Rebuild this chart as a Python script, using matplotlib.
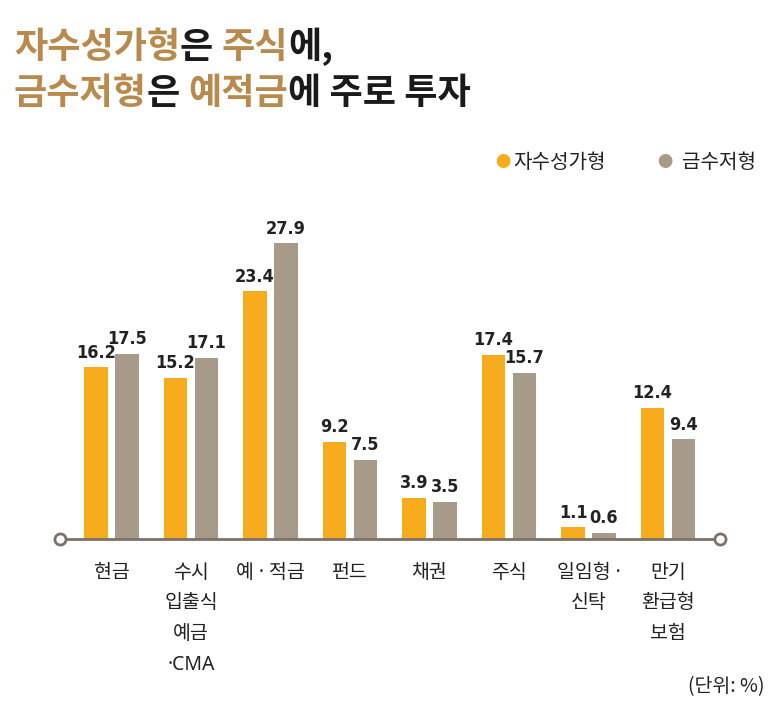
import numpy as np
import matplotlib.pyplot as plt
from matplotlib import font_manager

plt.rcParams['font.family'] = ['Noto Sans CJK KR', 'DejaVu Sans']

# Data
categories = ['현금', '수시\n입출식\n예금\n·CMA', '예 · 적금', '펀드', '채권', '주식',
              '일임형 ·\n신탁', '만기\n환급형\n보험']
self_made = [16.2, 15.2, 23.4, 9.2, 3.9, 17.4, 1.1, 12.4]
salaried = [17.5, 17.1, 27.9, 7.5, 3.5, 15.7, 0.6, 9.4]
series_names = ['자수성가형', '금수저형']

c_orange = '#F6AC1D'
c_gray = '#A89A89'
c_title = '#B88A4E'
c_axis = '#7D7168'

# look for a narrow font for the value labels
narrow = [f for f in font_manager.fontManager.ttflist
          if 'narrow' in f.name.lower() or f.stretch in ('condensed', 'semi-condensed')]
num_family = [narrow[0].name] if narrow else ['Roboto', 'DejaVu Sans']
num_stretch = narrow[0].stretch if narrow else 'normal'

fig = plt.figure(figsize=(7.77, 7.13), dpi=100)
W, H = 777, 713

# axes placed in pixel terms: baseline at y=539 from top, line from x=60 to 720
ax = fig.add_axes([60 / W, (H - 539) / H, 660 / W, 339 / H])
ax.set_xlim(-0.648, 7.654)
ax.set_ylim(0, 32)
ax.axis('off')

x = np.arange(len(categories))
off = 0.195
bw = 0.30
ax.bar(x - off, self_made, bw, color=c_orange)
ax.bar(x + off, salaried, bw, color=c_gray)

num_font = dict(family=num_family, stretch=num_stretch, fontsize=13 if narrow else 10.5,
                fontweight='bold' if narrow else 'medium', color='#222222',
                ha='center', va='bottom')
for xs, vals in [(x - off, self_made), (x + off, salaried)]:
    for xi, v in zip(xs, vals):
        ax.annotate(f'{v}', (xi, v), xytext=(0, 4), textcoords='offset points', **num_font)

# baseline with open circles
ax.plot([-0.648, 7.654], [0, 0], color=c_axis, lw=2, clip_on=False, zorder=3)
ax.plot([-0.648, 7.654], [0, 0], 'o', ms=8, mfc='white', mec=c_axis, mew=2,
        clip_on=False, zorder=4)

# category labels
for xi, lab in zip(x, categories):
    ax.annotate(lab, (xi, 0), xytext=(0, -17), textcoords='offset points',
                ha='center', va='top', fontsize=14, color='#222222', linespacing=1.72,
                family=['Noto Sans', 'Noto Sans CJK KR'])

# title with mixed colours
tkw = dict(fontsize=26, fontweight='bold')
pieces1 = [('자수성가형', c_title), ('은 ', '#1a1a1a'), ('주식', c_title), ('에,', '#1a1a1a')]
pieces2 = [('금수저형', c_title), ('은 ', '#1a1a1a'), ('예적금', c_title), ('에 주로 투자', '#1a1a1a')]
for pieces, ypix in [(pieces1, 58), (pieces2, 104)]:
    t = fig.text(14 / W, 1 - ypix / H, pieces[0][0], color=pieces[0][1], va='baseline', **tkw)
    for s, c in pieces[1:]:
        t = ax.annotate(s, xy=(1, 0), xycoords=t, va='bottom', ha='left', color=c,
                        annotation_clip=False, **tkw)

# legend
fig.text(503 / W, 1 - 163 / H, '●', color=c_orange, fontsize=11, ha='center', va='center')
fig.text(513 / W, 1 - 162 / H, series_names[0], color='#222222', fontsize=14.5, va='center')
fig.text(665 / W, 1 - 163 / H, '●', color=c_gray, fontsize=11, ha='center', va='center')
fig.text(682 / W, 1 - 162 / H, series_names[1], color='#222222', fontsize=14.5, va='center')

fig.text(765 / W, 1 - 687 / H, '(단위: %)', color='#222222', fontsize=14, ha='right', va='center')

fig.savefig('out.png', dpi=100, facecolor='white')
